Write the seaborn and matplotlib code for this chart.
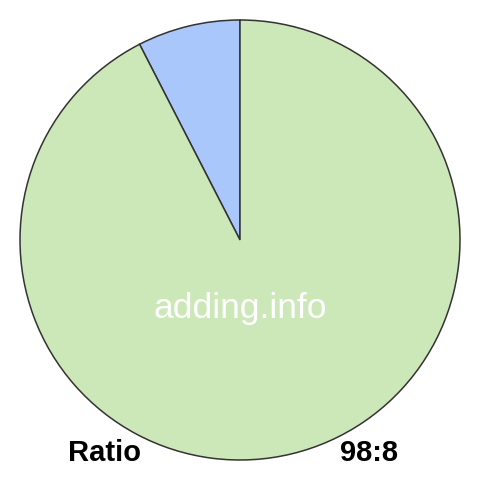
import matplotlib
matplotlib.use("Agg")
import matplotlib.pyplot as plt
import seaborn as sns

labels = ["8", "98"]
values = [8, 98]
colors = ["#a9c7fb", "#cde8b8"]
watermark = "adding.info"
left_label = "Ratio"
right_label = "98:8"

sns.set_theme(style="white")
plt.rcParams["font.family"] = ["Liberation Sans", "DejaVu Sans"]

fig = plt.figure(figsize=(4.8, 4.8), dpi=100)
ax = fig.add_axes([0, 0, 1, 1])
ax.pie(
    values,
    colors=colors,
    startangle=90,
    counterclock=True,
    radius=220,
    wedgeprops={"edgecolor": "#333333", "linewidth": 1.1},
)
ax.set_xlim(-240, 240)
ax.set_ylim(-240, 240)
ax.set_aspect("equal")
ax.axis("off")

# pixel coords -> data coords: x - 240, 240 - y
ax.text(0, 240 - 318, watermark, color="white", fontsize=25.5,
        ha="center", va="baseline")
ax.text(68 - 240, 240 - 461, left_label, color="black", fontsize=21,
        fontweight="bold", ha="left", va="baseline")
ax.text(398 - 240, 240 - 461, right_label, color="black", fontsize=21,
        fontweight="bold", ha="right", va="baseline")

fig.savefig("out.png", dpi=100, facecolor="white")
